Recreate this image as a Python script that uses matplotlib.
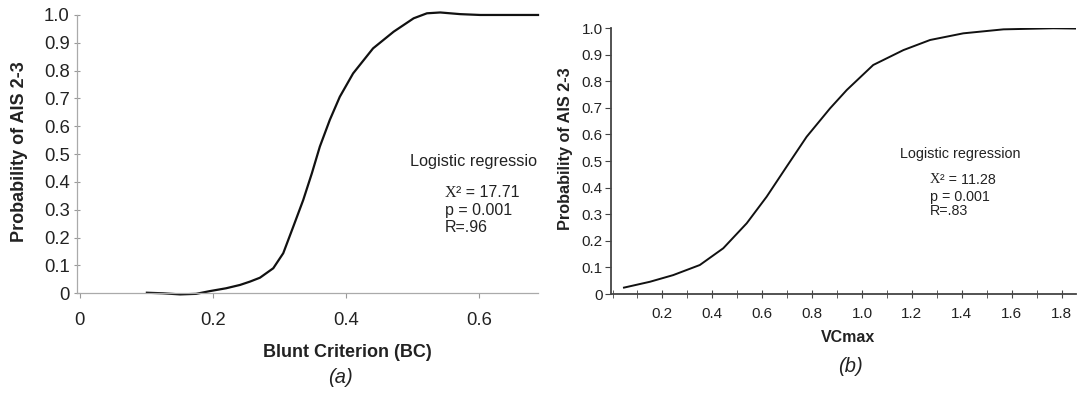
import numpy as np
import matplotlib.pyplot as plt
from matplotlib.ticker import MultipleLocator, FixedLocator

plt.rcParams['font.family'] = ['Liberation Sans', 'DejaVu Sans']

# (a) Blunt Criterion curve
bc_x = [0.101, 0.125, 0.151, 0.175, 0.196, 0.22, 0.241, 0.256, 0.271, 0.291,
        0.306, 0.321, 0.336, 0.349, 0.361, 0.376, 0.391, 0.411, 0.441, 0.472,
        0.502, 0.522, 0.542, 0.572, 0.602, 0.65, 0.689]
bc_p = [0.002, 0.0, -0.004, -0.002, 0.008, 0.018, 0.030, 0.042, 0.056, 0.090,
        0.144, 0.239, 0.335, 0.431, 0.527, 0.623, 0.706, 0.790, 0.880, 0.940,
        0.988, 1.006, 1.009, 1.003, 1.0, 1.0, 1.0]

# (b) VCmax curve
vc_x = [0.046, 0.150, 0.243, 0.350, 0.444, 0.538, 0.618, 0.698, 0.778, 0.872,
        0.939, 1.045, 1.166, 1.273, 1.406, 1.567, 1.767, 1.855]
vc_p = [0.024, 0.046, 0.071, 0.109, 0.172, 0.266, 0.366, 0.479, 0.591, 0.698,
        0.767, 0.861, 0.917, 0.955, 0.980, 0.995, 0.999, 0.998]

y_ticks = np.round(np.arange(0, 1.01, 0.1), 1)
y_labels = ['0'] + [f'{v:.1f}' for v in y_ticks[1:]]
bc_ticks = [0, 0.2, 0.4, 0.6]
bc_labels = ['0', '0.2', '0.4', '0.6']
vc_ticks = [0.2, 0.4, 0.6, 0.8, 1.0, 1.2, 1.4, 1.6, 1.8]
vc_labels = ['0.2', '0.4', '0.6', '0.8', '1.0', '1.2', '1.4', '1.6', '1.8']

TXT = '#222222'


def stats(ax, x, ys, chi, p, r, size):
    # chi-square symbol drawn as a serif X, rest in sans
    t1 = ax.text(x, ys[0], 'X', transform=ax.transAxes, fontsize=size,
                 family='Liberation Serif', color=TXT, va='center')
    ax.annotate(f'\u00b2 = {chi}', xy=(1, 0.5), xycoords=t1, fontsize=size,
                color=TXT, va='center', ha='left')
    ax.text(x, ys[1], f'p = {p}', transform=ax.transAxes, fontsize=size,
            color=TXT, va='center')
    ax.text(x, ys[2], f'R={r}', transform=ax.transAxes, fontsize=size,
            color=TXT, va='center')


fig = plt.figure(figsize=(10.78, 3.94), dpi=100)

# ---- panel (a)
ax1 = fig.add_axes([0.0717, 0.2556, 0.4274, 0.7064])
ax1.plot(bc_x, bc_p, color='#111111', lw=1.6, clip_on=False,
         solid_joinstyle='round')
ax1.set_xlim(-0.0036, 0.689)
ax1.set_ylim(0, 1.0)
ax1.set_yticks(y_ticks)
ax1.set_yticklabels(y_labels)
ax1.set_xticks(bc_ticks)
ax1.set_xticklabels(bc_labels)
for s in ['top', 'right']:
    ax1.spines[s].set_visible(False)
for s in ['left', 'bottom']:
    ax1.spines[s].set_color('#aaaaaa')
    ax1.spines[s].set_linewidth(0.9)
ax1.tick_params(axis='y', direction='inout', length=5, color='#999999',
                labelsize=13.3, pad=3, labelcolor=TXT)
ax1.tick_params(axis='x', direction='out', length=3.5, color='#999999',
                labelsize=13.3, pad=10, labelcolor=TXT)
ax1.set_ylabel('Probability of AIS 2-3', fontsize=13, fontweight='bold',
               color=TXT)
ax1.yaxis.set_label_coords(-0.1244, 0.5095)
ax1.yaxis.label.set_verticalalignment('center')
ax1.set_xlabel('Blunt Criterion (BC)', fontsize=13, fontweight='bold',
               color=TXT)
ax1.xaxis.set_label_coords(0.587, -0.211)
ax1.xaxis.label.set_verticalalignment('center')
ax1.text(0.572, -0.304, '(a)', transform=ax1.transAxes, fontsize=14.5,
         style='italic', ha='center', va='center', color=TXT)
ax1.text(0.722, 0.473, 'Logistic regression', transform=ax1.transAxes,
         fontsize=11.7, color=TXT, va='center', clip_on=True)
stats(ax1, 0.798, [0.362, 0.297, 0.237], '17.71', '0.001', '.96', 11.5)

# ---- panel (b)
ax2 = fig.add_axes([0.5668, 0.2538, 0.4314, 0.6751])
ax2.plot(vc_x, vc_p, color='#111111', lw=1.4, solid_joinstyle='round')
ax2.set_xlim(-0.006, 1.858)
ax2.set_ylim(0, 1.0)
ax2.set_yticks(y_ticks)
ax2.set_yticklabels(y_labels)
ax2.xaxis.set_major_locator(FixedLocator(vc_ticks))
ax2.xaxis.set_minor_locator(MultipleLocator(0.1))
ax2.set_xticklabels(vc_labels)
for s in ['top', 'right']:
    ax2.spines[s].set_visible(False)
for s in ['left', 'bottom']:
    ax2.spines[s].set_color('#444444')
    ax2.spines[s].set_linewidth(1.3)
ax2.tick_params(axis='y', direction='out', length=4, color='#444444',
                labelsize=11, pad=2, labelcolor=TXT)
ax2.tick_params(axis='x', which='both', direction='inout', length=6,
                color='#444444', labelsize=11, pad=6, labelcolor=TXT)
ax2.set_ylabel('Probability of AIS 2-3', fontsize=11.7, fontweight='bold',
               color=TXT)
ax2.yaxis.set_label_coords(-0.0974, 0.545)
ax2.yaxis.label.set_verticalalignment('center')
ax2.set_xlabel('VCmax', fontsize=11.5, fontweight='bold', color=TXT)
ax2.xaxis.set_label_coords(0.509, -0.1617)
ax2.xaxis.label.set_verticalalignment('center')
ax2.text(0.515, -0.274, '(b)', transform=ax2.transAxes, fontsize=14.5,
         style='italic', ha='center', va='center', color=TXT)
ax2.text(0.6215, 0.526, 'Logistic regression', transform=ax2.transAxes,
         fontsize=10.4, color=TXT, va='center')
stats(ax2, 0.686, [0.429, 0.366, 0.312], '11.28', '0.001', '.83', 10.3)

fig.savefig('out.png', dpi=100)
plt.close(fig)
